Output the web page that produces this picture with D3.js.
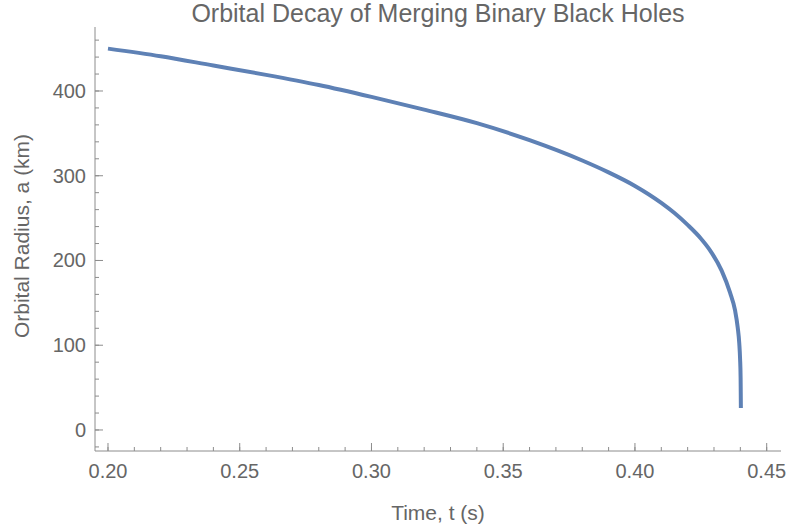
<!DOCTYPE html>
<html>
<head>
<meta charset="utf-8">
<script src="https://cdn.jsdelivr.net/npm/d3@7"></script>
<style>
  body { margin: 0; background: white; }
  #visualization { width: 791px; height: 531px; }
</style>
</head>
<body>
<div id="visualization"></div>
<script>
// Values
const timeValues = [0.200, 0.220, 0.240, 0.260, 0.280, 0.300, 0.320, 0.340, 0.360, 0.380,
  0.390, 0.400, 0.410, 0.415, 0.420, 0.425, 0.4285, 0.4329, 0.4361, 0.4380,
  0.4390, 0.4396, 0.4399, 0.4401, 0.44015, 0.4402];
const radiusValues = [450, 441, 430, 419, 407, 393, 378, 362, 342, 318,
  304, 288, 268, 256, 242, 226, 212, 188, 162, 141,
  121, 102, 84, 62, 45, 26];

const xTicks = [0.20, 0.25, 0.30, 0.35, 0.40, 0.45];
const xMinorTicks = d3.range(20, 46).map(d => d / 100);
const yTicks = [0, 100, 200, 300, 400];
const yMinorTicks = d3.range(-20, 461, 20);

const titleText = "Orbital Decay of Merging Binary Black Holes";
const xLabel = "Time, t (s)";
const yLabel = "Orbital Radius, a (km)";

document.addEventListener('DOMContentLoaded', function() {
  drawChart();
});

function drawChart() {
  const width = 791;
  const height = 531;
  const font = "'Liberation Sans', Arial, sans-serif";
  const textColor = "#666666";
  const axisColor = "#8c8c8c";
  const lineColor = "#5e81b5";

  // Plot area edges (where the axes sit)
  const left = 95, right = 781, top = 27, bottom = 451;

  const data = timeValues.map((t, i) => ({ t: t, a: radiusValues[i] }));

  const svg = d3.select("#visualization")
    .append("svg")
    .attr("width", width)
    .attr("height", height);

  const xScale = d3.scaleLinear()
    .domain([0.19507, 0.45543])
    .range([left, right]);

  const yScale = d3.scaleLinear()
    .domain([-24.8, 475.5])
    .range([bottom, top]);

  // Axis lines
  svg.append("line")
    .attr("x1", left).attr("y1", bottom)
    .attr("x2", right).attr("y2", bottom)
    .attr("stroke", axisColor)
    .attr("stroke-width", 1);

  svg.append("line")
    .attr("x1", left).attr("y1", top)
    .attr("x2", left).attr("y2", bottom)
    .attr("stroke", axisColor)
    .attr("stroke-width", 1);

  // x ticks (pointing into the plot)
  svg.selectAll(".x-minor")
    .data(xMinorTicks)
    .enter()
    .append("line")
    .attr("class", "x-minor")
    .attr("x1", d => xScale(d)).attr("x2", d => xScale(d))
    .attr("y1", bottom).attr("y2", bottom - 4)
    .attr("stroke", axisColor);

  svg.selectAll(".x-major")
    .data(xTicks)
    .enter()
    .append("line")
    .attr("class", "x-major")
    .attr("x1", d => xScale(d)).attr("x2", d => xScale(d))
    .attr("y1", bottom).attr("y2", bottom - 8)
    .attr("stroke", axisColor);

  svg.selectAll(".x-label")
    .data(xTicks)
    .enter()
    .append("text")
    .attr("class", "x-label")
    .attr("x", d => xScale(d))
    .attr("y", bottom + 27)
    .attr("text-anchor", "middle")
    .attr("font-family", font)
    .attr("font-size", "20px")
    .attr("fill", textColor)
    .text(d => d3.format(".2f")(d));

  // y ticks
  svg.selectAll(".y-minor")
    .data(yMinorTicks)
    .enter()
    .append("line")
    .attr("class", "y-minor")
    .attr("x1", left).attr("x2", left + 4)
    .attr("y1", d => yScale(d)).attr("y2", d => yScale(d))
    .attr("stroke", axisColor);

  svg.selectAll(".y-major")
    .data(yTicks)
    .enter()
    .append("line")
    .attr("class", "y-major")
    .attr("x1", left).attr("x2", left + 8)
    .attr("y1", d => yScale(d)).attr("y2", d => yScale(d))
    .attr("stroke", axisColor);

  svg.selectAll(".y-label")
    .data(yTicks)
    .enter()
    .append("text")
    .attr("class", "y-label")
    .attr("x", left - 9)
    .attr("y", d => yScale(d) + 7)
    .attr("text-anchor", "end")
    .attr("font-family", font)
    .attr("font-size", "20px")
    .attr("fill", textColor)
    .text(d => d);

  // The decay curve
  const line = d3.line()
    .x(d => xScale(d.t))
    .y(d => yScale(d.a))
    .curve(d3.curveMonotoneX);

  svg.append("path")
    .datum(data)
    .attr("fill", "none")
    .attr("stroke", lineColor)
    .attr("stroke-width", 4)
    .attr("d", line);

  // Title and axis labels
  svg.append("text")
    .attr("x", (left + right) / 2)
    .attr("y", 22)
    .attr("text-anchor", "middle")
    .attr("font-family", font)
    .attr("font-size", "25px")
    .attr("fill", textColor)
    .text(titleText);

  svg.append("text")
    .attr("x", (left + right) / 2)
    .attr("y", 520)
    .attr("text-anchor", "middle")
    .attr("font-family", font)
    .attr("font-size", "21px")
    .attr("fill", textColor)
    .text(xLabel);

  svg.append("text")
    .attr("transform", "translate(29," + 236 + ") rotate(-90)")
    .attr("text-anchor", "middle")
    .attr("font-family", font)
    .attr("font-size", "21px")
    .attr("fill", textColor)
    .text(yLabel);
}
</script>
</body>
</html>
